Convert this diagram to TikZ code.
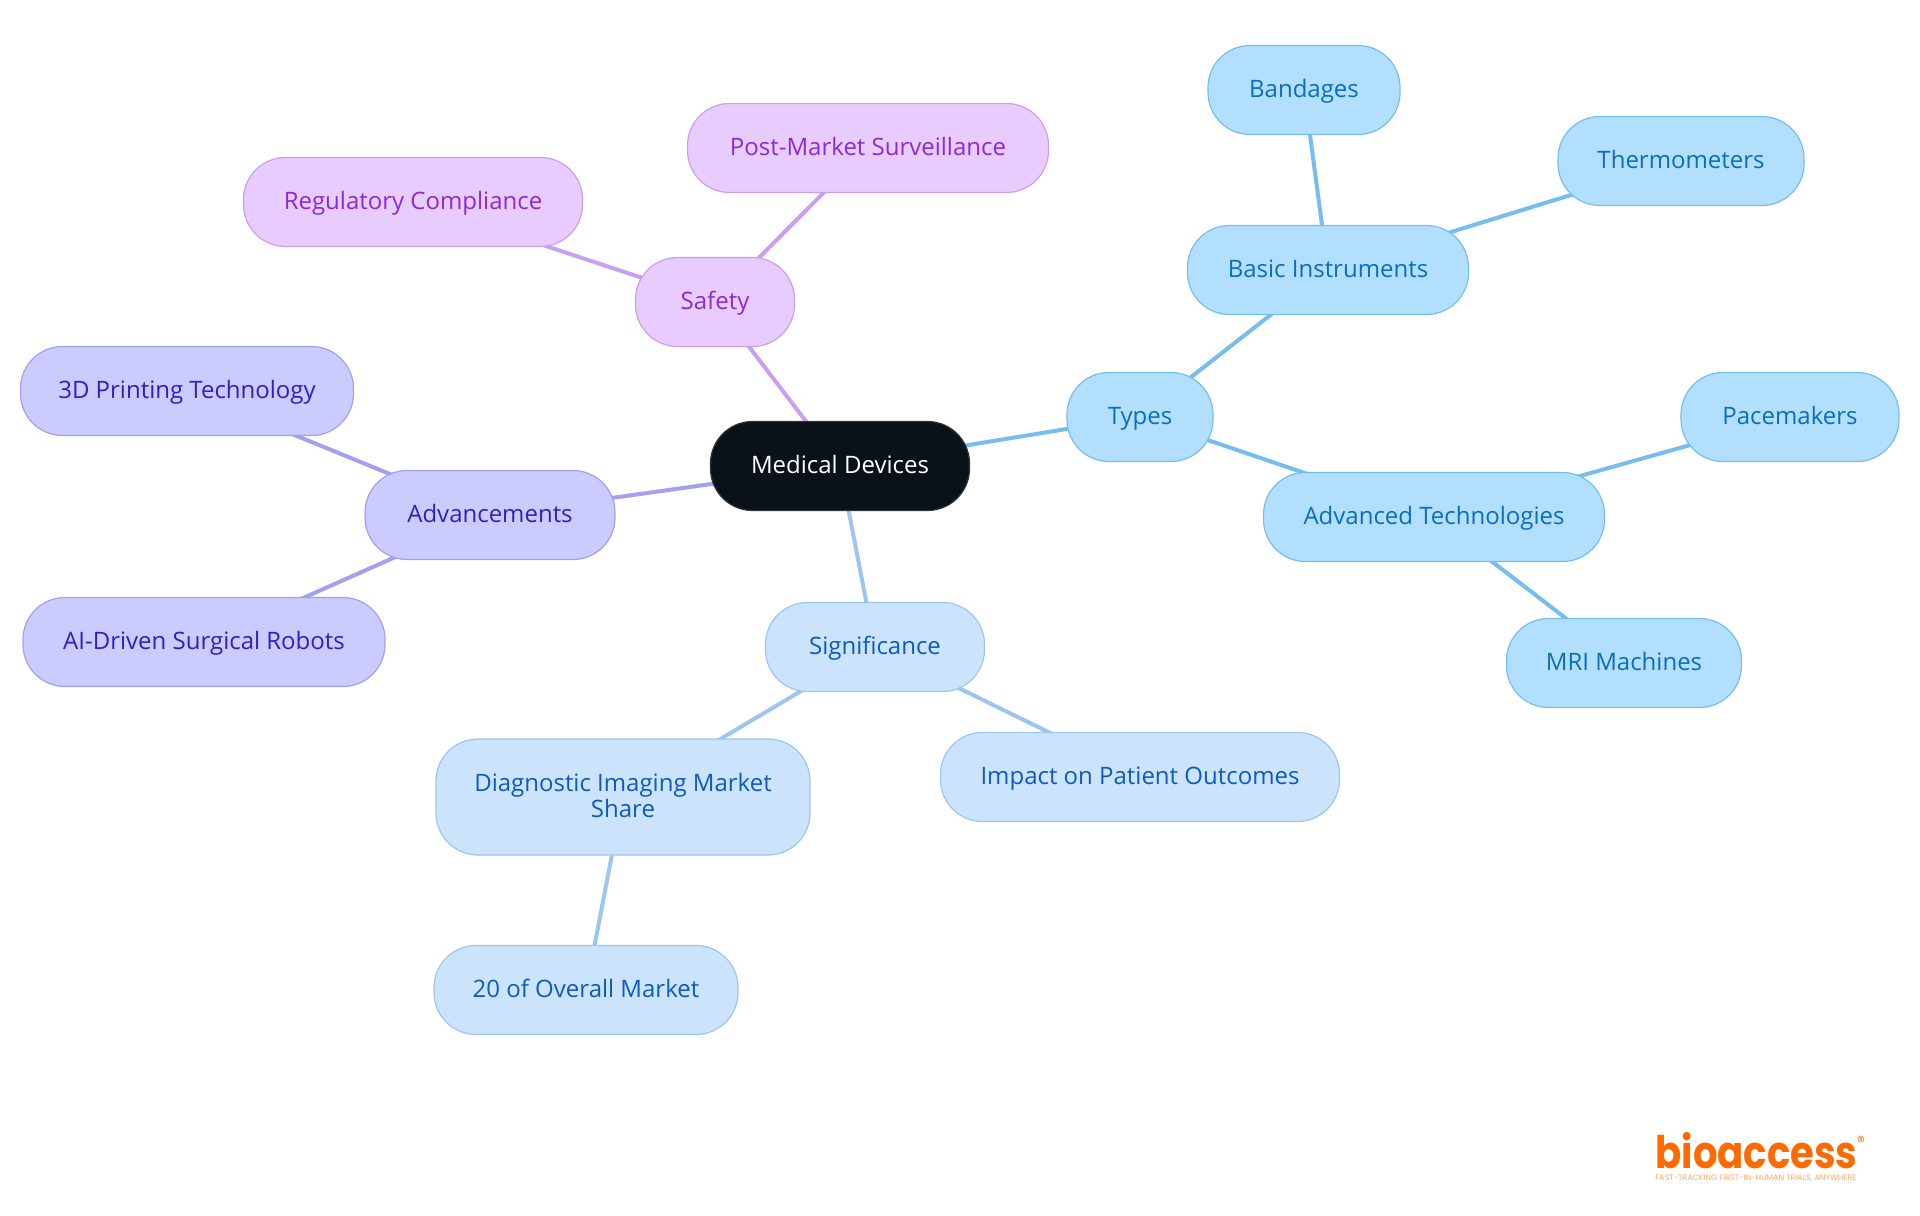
\documentclass[tikz,border=0pt]{standalone}
\usepackage{fontspec}
\setmainfont{Open Sans}
\newfontfamily\logofont{Poppins}
\usetikzlibrary{backgrounds}
\definecolor{color1}{HTML}{0B1119}
\definecolor{color2}{HTML}{B3DFFF}
\definecolor{color3}{HTML}{76BDF0}
\definecolor{color4}{HTML}{0A6EBD}
\definecolor{color5}{HTML}{CCE3FC}
\definecolor{color6}{HTML}{9DC5F0}
\definecolor{color7}{HTML}{0D5BC0}
\definecolor{color8}{HTML}{CBCBFF}
\definecolor{color9}{HTML}{A3A0F0}
\definecolor{color10}{HTML}{2F21C0}
\definecolor{color11}{HTML}{E8CCFF}
\definecolor{color12}{HTML}{C9A0F0}
\definecolor{color13}{HTML}{8A2BD8}
\definecolor{color14}{HTML}{FF6A00}
\tikzset{
	box/.style={
		rounded corners=21pt,
		line width=.6pt,
		minimum height=44.5pt,
		inner sep=0pt,
		align=center,
		text height=10pt,
		text depth=3pt,
		font=\fontsize{12}{13}\selectfont},
	root/.style={box,fill=color1,draw=color1!85!white,text=white},
	types/.style={box,fill=color2,draw=color3,text=color4},
	signif/.style={box,fill=color5,draw=color6,text=color7},
	advance/.style={box,fill=color8,draw=color9,text=color10},
	safety/.style={box,fill=color11,draw=color12,text=color13},
	link/.style={line width=2pt},
}
\begin{document}
\begin{tikzpicture}[x=.5pt,y=-.5pt]
		\useasboundingbox (0,0) rectangle (1920,1215);
		% centre
		\node[root,minimum width=129.5pt] (medical) at (840,466) {Medical Devices};
		% types branch
		\node[types,minimum width=73pt] (types) at (1140,417) {Types};
		\node[types,minimum width=140.5pt] (basic) at (1328,270) {Basic Instruments};
		\node[types,minimum width=96pt] (bandages) at (1304,90) {Bandages};
		\node[types,minimum width=123pt] (thermo) at (1681,161) {Thermometers};
		\node[types,minimum width=170.5pt] (advtech) at (1434,517) {Advanced Technologies};
		\node[types,minimum width=109pt] (pace) at (1790,417) {Pacemakers};
		\node[types,minimum width=117.5pt] (mri) at (1624,663) {MRI Machines};
		% significance branch
		\node[signif,minimum width=187pt,minimum height=58pt,text height=,text depth=1.2pt] (diag) at (623,797) {Diagnostic Imaging Market\\Share};
		\node[signif,minimum width=109.5pt] (signif) at (875,647) {Significance};
		\node[signif,minimum width=199.5pt] (impact) at (1140,777) {Impact on Patient Outcomes};
		\node[signif,minimum width=152pt] (overall) at (586,990) {20 of Overall Market};
		% advancements branch
		\node[advance,minimum width=125pt] (advance) at (490,515) {Advancements};
		\node[advance,minimum width=166.5pt] (print) at (187,391) {3D Printing Technology};
		\node[advance,minimum width=181pt] (robots) at (204,642) {AI-Driven Surgical Robots};
		% safety branch
		\node[safety,minimum width=79.5pt] (safety) at (715,302) {Safety};
		\node[safety,minimum width=169.5pt] (regul) at (413,202) {Regulatory Compliance};
		\node[safety,minimum width=180.5pt] (post) at (868,148) {Post-Market Surveillance};

		% connectors
		\begin{pgfonlayer}{background}
			\draw[link,color3] (medical.center) -- (types.center);
			\draw[link,color3] (types.center) -- (basic.center);
			\draw[link,color3] (basic.center) -- (bandages.center);
			\draw[link,color3] (basic.center) -- (thermo.center);
			\draw[link,color3] (types.center) -- (advtech.center);
			\draw[link,color3] (advtech.center) -- (pace.center);
			\draw[link,color3] (advtech.center) -- (mri.center);
			\draw[link,color6] (medical.center) -- (signif.center);
			\draw[link,color6] (signif.center) -- (impact.center);
			\draw[link,color6] (signif.center) -- (diag.center);
			\draw[link,color6] (diag.center) -- (overall.center);
			\draw[link,color9] (medical.center) -- (advance.center);
			\draw[link,color9] (advance.center) -- (print.center);
			\draw[link,color9] (advance.center) -- (robots.center);
			\draw[link,color12] (medical.center) -- (safety.center);
			\draw[link,color12] (safety.center) -- (regul.center);
			\draw[link,color12] (safety.center) -- (post.center);
		\end{pgfonlayer}

		% logo
		\node[inner sep=0pt,anchor=base west,text=color14] (logo) at (1655,1168)
		{\resizebox{101pt}{18pt}{\logofont\bfseries bioaccess}};
		\node[inner sep=0pt,text=color14] (reg) at (1861,1142) {\logofont\fontsize{8}{8}\selectfont\textregistered};
		\node[inner sep=0pt,anchor=base west,text=color14!60!white] (tagline) at (1655,1180)
		{\resizebox{100.5pt}{!}{\logofont FAST-TRACKING FIRST-IN-HUMAN TRIALS, ANYWHERE}};
\end{tikzpicture}
\end{document}
